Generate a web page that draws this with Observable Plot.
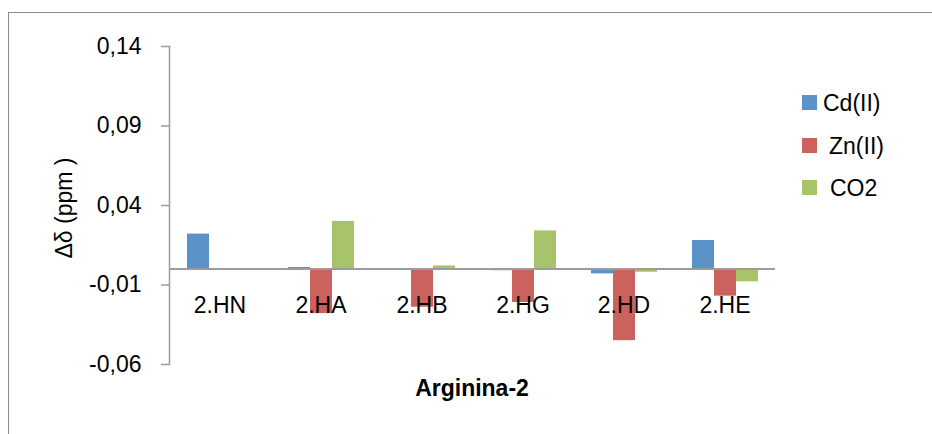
<!DOCTYPE html>
<html><head><meta charset="utf-8">
<script src="https://cdn.jsdelivr.net/npm/d3@7"></script>
<script src="https://cdn.jsdelivr.net/npm/@observablehq/plot@0.6"></script>
<style>
body{margin:0;background:#fff;font-family:"Liberation Sans",Arial,sans-serif;}
#wrap{position:relative;width:932px;height:434px;overflow:hidden;background:#fff;}
#frame{position:absolute;left:8px;top:12px;width:1000px;height:1000px;border:1.5px solid #8c8c8c;box-sizing:border-box;}
#chart{position:absolute;left:0;top:0;}
.ytitle{position:absolute;left:64px;top:208px;transform:translate(-50%,-50%) rotate(-90deg);font-size:23px;white-space:nowrap;color:#000;}
.xtitle{position:absolute;left:472px;top:388px;transform:translate(-50%,-50%);font-size:23px;font-weight:bold;white-space:nowrap;color:#000;}
.leg{position:absolute;left:802px;height:15px;}
.leg .sw{position:absolute;left:0;top:0;width:15px;height:15px;}
.leg .lb{position:absolute;top:50%;transform:translateY(-50%);font-size:23px;white-space:nowrap;color:#000;}
</style>
</head><body>
<div id="wrap">
  <div id="frame"></div>
  <div id="chart"></div>
  <div class="ytitle">Δδ (ppm )</div>
  <div class="xtitle">Arginina-2</div>
  <div id="legend"></div>
</div>
<script>
const categories = ["2.HN", "2.HA", "2.HB", "2.HG", "2.HD", "2.HE"];
const series = ["Cd(II)", "Zn(II)", "CO2"];
const cdValues = [0.022, 0.001, 0, -0.001, -0.003, 0.018];
const znValues = [0, -0.028, -0.024, -0.021, -0.045, -0.017];
const co2Values = [0, 0.030, 0.002, 0.024, -0.002, -0.008];
const colors = ["#5b93c9", "#cc625e", "#a8c46a"];
const yTicks = [-0.06, -0.01, 0.04, 0.09, 0.14];

const seriesValues = [cdValues, znValues, co2Values];
const rows = categories.flatMap((c, i) => series.map((s, j) => ({cat: c, series: s, value: seriesValues[j][i]})));

const fmt = d => d.toFixed(2).replace(".", ",");

const chart = Plot.plot({
  width: 932, height: 434,
  marginLeft: 168, marginRight: 156, marginTop: 46, marginBottom: 70,
  style: {fontFamily: "Liberation Sans, Arial, sans-serif", fontSize: "23px", background: "transparent", color: "#000", overflow: "visible"},
  fx: {domain: categories, padding: 0, axis: null},
  x: {domain: series, paddingInner: 0, paddingOuter: 0.75, axis: null},
  y: {domain: [-0.06, 0.14]},
  color: {domain: series, range: colors},
  marks: [
    Plot.barY(rows, {fx: "cat", x: "series", y: "value", fill: "series"}),
    Plot.ruleY([0], {stroke: "#9c9c9c", strokeWidth: 2}),
    Plot.frame({anchor: "left", facetAnchor: "left", stroke: "#9c9c9c", strokeWidth: 1.5}),
    Plot.axisY({ticks: yTicks, tickFormat: fmt, tickSize: 8, tickPadding: 20, stroke: "#9c9c9c", strokeWidth: 1.5, fill: "#000", label: null}),
    Plot.text(categories, {fx: d => d, y: () => 0, text: d => d, dy: 37, fill: "#000"})
  ]
});
document.getElementById("chart").appendChild(chart);

const legend = document.getElementById("legend");
const legTops = [95, 138, 180];
const legTextLeft = [21, 27, 28];
series.forEach((s, i) => {
  const row = document.createElement("div");
  row.className = "leg";
  row.style.top = legTops[i] + "px";
  row.innerHTML = `<div class="sw" style="background:${colors[i]}"></div><div class="lb" style="left:${legTextLeft[i]}px">${s}</div>`;
  legend.appendChild(row);
});
</script>
</body></html>
